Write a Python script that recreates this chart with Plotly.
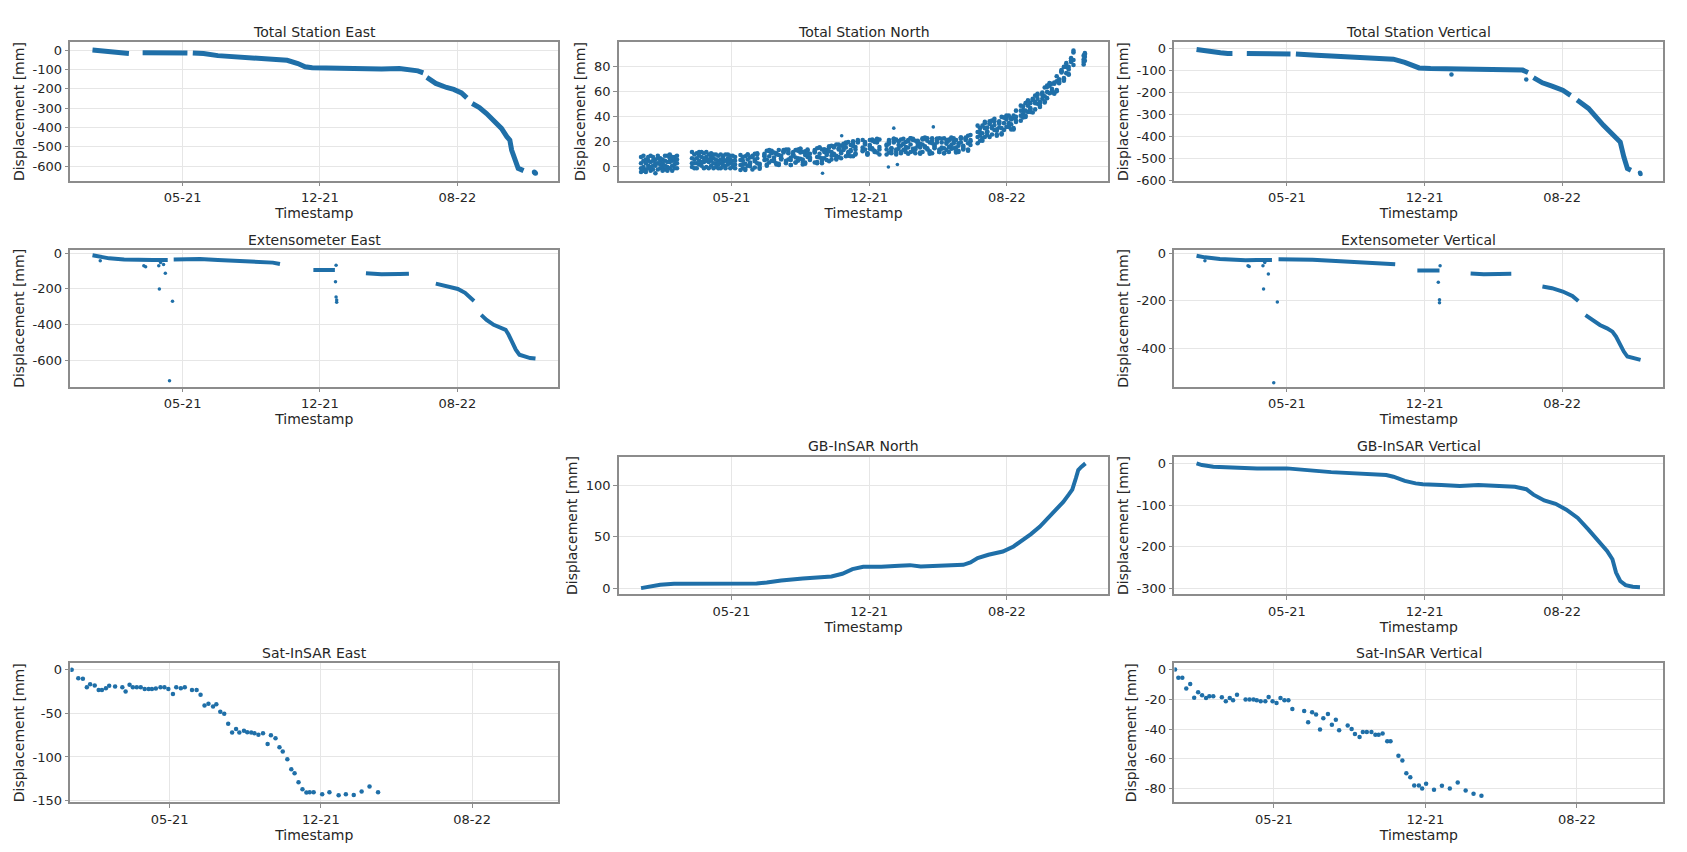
import datetime as dt
import plotly.graph_objects as go

START = dt.datetime(2020, 12, 8)
COLOR = "#1f6fa8"
FONT = "DejaVu Sans"

TICK_DATES = ["2021-05-08", "2021-12-24", "2022-08-11"]
TICK_TEXT = ["05-21", "12-21", "08-22"]
RANGE_FULL = ["2020-11-01", "2023-01-27"]
RANGE_SAT = ["2020-12-08", "2022-12-20"]

# ---------------- Total Station East (days since START, mm) ----------------
TSE_DAYS = [0, 7, 13, 22, 34, 50, 61, None, 84, 101, 125, 144, 159, None,
            168, 186, 210, 241, 271, 308, 326, 344, 356, 368, 393, 423, 454, 484, 514, 533, 545, 554, None,
            560, 575, 593, 605, 618, 627, None,
            636, 648, 660, 672, 685, 694, 699, 702, 706, 709, 713, 722]
TSE_VALS = [1, -1, -4, -9, -13, -15, -17, None, -13, -14, -13, -14, -15, None,
            -14, -17, -28, -34, -38, -43, -52, -69, -86, -91, -93, -97, -97, -97, -95, -100, -107, -117, None,
            -141, -172, -193, -203, -221, -247, None,
            -276, -297, -328, -362, -405, -448, -466, -517, -552, -586, -612, -624]
TSE_PT_DAYS = [740, 741, 742]
TSE_PT_VALS = [-631, -635, -638]

# ---------------- Total Station North (scattered band, 4 readings per date) ----------------
NORTH_DAYS = [0, 4, 8, 12, 16, 20, 24, 28, 32, 36, 40, 44, 48, 52, 56, 60,
              85, 89, 93, 97, 101, 105, 109, 113, 117, 121, 125, 129, 133, 137, 141, 145, 149, 153, 157,
              166, 170, 174, 178, 182, 186, 190, 194, 198,
              206, 210, 214, 218, 222, 226, 230, 234, 238, 242, 246, 250, 254, 258, 262, 266, 270, 274, 278, 282,
              290, 294, 298, 302, 306, 310, 314, 318, 322, 326, 330, 334, 338, 342, 346, 350, 354, 358, 362,
              370, 374, 378, 382, 386, 390, 394, 398,
              410, 414, 418, 422, 426, 430, 434, 438, 442, 446, 450, 454, 458, 462, 466, 470, 474, 478, 482,
              486, 490, 494, 498, 502, 506, 510, 514, 518, 522, 526, 530, 534, 538, 542, 546, 550,
              562, 566, 570, 574, 578, 582, 586, 590, 594, 598, 602, 606, 610, 614, 618, 622, 626,
              634, 638, 642, 646, 650, 654, 658, 662, 666, 670, 674, 678, 682, 686, 690, 694, 698, 702, 706,
              710, 714, 718, 722,
              739, 741]
NORTH_A = [-4, 0, -2, 5, -3, 1, -5, 3, -1, 6, -2, 0, 4, -3, 2, -1,
           0, 6, 11, 2, 8, -1, 5, 10, 1, 7, 3, 9, -1, 4, 10, 2, 6, 0, 8,
           -2.5, 5, 8.5, 1, 7.5, -2, 5.5, 10, 1.5,
           9.5, 1, 8.5, 12, 4.5, 11, 1.5, 9, 12.5, 5, 11, 1.5, 9, 13.5, 5, 11.5, 2, 9.5, 13, 5.5,
           11.5, 3, 10.5, 14, 7, 13.5, 4.5, 12, 16.5, 9, 15, 7, 14.5, 18.5, 11, 17.5, 8.5, 16, 20.5,
           12.5, 19, 10, 16.5, 21, 13, 19.5, 10,
           17, 21.5, 13, 19.5, 10, 17.5, 22, 13.5, 20, 10.5, 18, 21.5, 14, 20, 10.5, 18, 22.5, 14, 19.5,
           11, 18, 22.5, 14, 19.5, 11, 18.5, 22, 14.5, 20, 11.5, 19, 22.5, 15, 21.5, 13, 20.5,
           19, 28, 33, 24, 31.5, 24, 32, 36.5, 29, 35.5, 26, 35, 39, 32, 39, 30, 40,
           37, 45.5, 51, 44, 51, 43.5, 52, 57.5, 51, 58.5, 51.5, 60, 66, 59.5, 67.5, 60.5, 70, 76.5, 71,
           80, 74, 84, 91.5,
           82, 85]
NORTH_B = [3, -3, 6, -1, 4, 8, 1, -2, 7, 0, 5, 9, -1, 5, 8, 3,
           7, -1, 3, 9, 1, 11, 0, 4, 8, -1, 10, 2, 6, 9, 1, 7, -1, 5, 2,
           5.5, -1, 2.5, 10, 0.5, 8, 4.5, 7, -0.5,
           5.5, 13, 3.5, 11, 7.5, 10, 2.5, 7, 13.5, 4, 12, 7.5, 10, 3.5, 7, 14.5, 4, 12.5, 8, 10.5,
           3.5, 8, 15.5, 5, 14, 10.5, 12.5, 6, 10.5, 18, 8, 17, 13.5, 15.5, 9, 13.5, 20.5, 11, 19.5,
           15.5, 18, 11, 14.5, 22, 12, 20.5, 16,
           18, 11.5, 15, 22.5, 12, 20.5, 17, 18.5, 12, 15.5, 23, 12.5, 21, 17, 18.5, 12, 16.5, 23, 12.5,
           21, 17, 19.5, 12, 15.5, 23, 13.5, 21, 17.5, 19, 12.5, 17, 23.5, 14, 22.5, 19, 21.5,
           28, 21, 27, 36, 25.5, 34.5, 31, 33.5, 26, 31.5, 40, 29.5, 38, 35, 38, 31, 37,
           45, 39.5, 45, 53, 44, 53.5, 51, 54.5, 49, 54.5, 63.5, 55, 65, 62.5, 66.5, 61.5, 68, 77.5, 70,
           81, 80, 85, 81.5,
           86, 88]
NORTH_C = [8, 5, -4, 1, 9, -2, 6, 7, 2, -3, 9, 4, 7, 1, -1, 9,
           12, 3, 7, 5, 12, 4, 8, -1, 5, 10, 0, 5, 10, 1, 5, 10, 3, 9, -1,
           9.5, 2, -2.5, 6, 3.5, 9, 10.5, 3, -1.5,
           8.5, 6, 12.5, 13, 5.5, 2, 9.5, 7, 12.5, 14, 6, 1.5, 10, 7.5, 13, 14.5, 6, 2.5, 10, 7.5,
           13.5, 15, 7.5, 3, 12, 9.5, 15.5, 17, 9.5, 6, 14, 12, 18.5, 19.5, 12, 8.5, 16.5, 14, 20.5,
           21.5, 14, 10, 17.5, 15, 21, 22.5, 14,
           10, 18.5, 15, 21.5, 22, 14.5, 11, 18.5, 16, 21.5, 23, 14.5, 11, 19, 15.5, 22, 23.5, 15, 10.5,
           19, 16, 22.5, 23, 14.5, 11, 19.5, 16, 22.5, 23, 15.5, 12, 19.5, 17, 23.5, 25, 17.5,
           33, 25, 21, 31, 28.5, 36.5, 37, 29.5, 25, 34.5, 31, 39.5, 41, 33, 30, 39, 36,
           49, 42.5, 40, 49, 47, 54.5, 57, 50.5, 48, 57.5, 56.5, 64, 67, 60.5, 58.5, 68.5, 68, 76.5, 80,
           75, 74, 85, 85.5,
           89, 91]
NORTH_D = [-1, 9, 3, 8, 0, 5, 3, 9, 5, 3, 1, -3, 10, 8, 5, 6,
           3, 10, -1, 12, 4, 7, 12, 6, 11, 3, 6, -1, 3, 7, -1, 4, 9, 2, 5,
           1.5, 8, -1.5, 10, 2.5, 8, -0.5, 11, 2.5,
           10.5, 2, 13.5, 5, 11.5, 3, 13.5, 6, 11.5, 3, 14, 5.5, 12, 3.5, 14, 6.5, 12, 3.5, 14, 6.5,
           12.5, 4, 15.5, 7, 14, 5.5, 16.5, 9, 15.5, 7, 18, 11, 17.5, 8.5, 20, 12.5, 18.5, 10, 21.5,
           13.5, 20, 11, 21.5, 14, 20, 11.5, 22,
           14, 20.5, 11, 22.5, 14, 20.5, 12, 22.5, 15, 20.5, 12, 22.5, 15, 21, 11.5, 23, 15.5, 21, 11.5,
           23, 15, 21.5, 12, 22.5, 15, 21.5, 12, 23.5, 15, 21.5, 13, 23.5, 16, 22.5, 14, 25.5,
           24, 31, 23, 35, 27.5, 34.5, 26, 38.5, 30, 36.5, 27, 39.5, 32, 41, 34, 41, 45,
           41, 48.5, 41, 53, 46, 53.5, 46, 58.5, 52, 59.5, 52.5, 65, 59, 66.5, 59.5, 72.5, 67, 75.5, 69,
           83, 78, 87, 93,
           84, 90]
NORTH_OUT_DAYS = [303, 335, 413, 422, 428, 488]
NORTH_OUT_VALS = [-5, 25, 0, 31, 2, 32]

# ---------------- Total Station Vertical ----------------
TSV_DAYS = [0, 6, 15, 28, 40, 52, 60, None, 84, 108, 132, 157, None,
            166, 181, 200, 225, 255, 286, 311, 329, 348, 360, 372, 391, 409, 440, 471, 501, 532, 545, 554, None,
            563, 578, 594, 612, 625, None,
            636, 655, 680, 698, 708, 714, 717, 720, 726]
TSV_VALS = [-3, -6, -11, -15, -18, -21, -21, None, -21, -22, -23, -24, None,
            -23, -24, -29, -33, -38, -41, -43, -47, -62, -76, -87, -90, -91, -93, -93, -91, -93, -97, -108, None,
            -131, -155, -170, -189, -212, None,
            -234, -272, -349, -402, -425, -493, -531, -546, -554]
TSV_PT_DAYS = [426, 551, 741, 742]
TSV_PT_VALS = [-117, -140, -566, -571]

# ---------------- Extensometer East ----------------
EXE_DAYS = [0, 10, 28, 53, 77, 101, 126, None, 136, 150, 180, 210, 241, 271, 302, 314, None,
            370, 381, 393, 406, None, 458, 484, 514, 530, None, 575, 593, 612, 624, 639, None,
            651, 660, 672, 685, 692, 697, 703, 709, 715, 724, 733, 742]
EXE_VALS = [-11, -19, -28, -34, -37, -37, -37, None, -34, -32, -32, -37, -43, -47, -52, -60, None,
            -93, -95, -95, -94, None, -112, -118, -116, -114, None, -170, -182, -200, -222, -268, None,
            -346, -374, -402, -420, -430, -458, -505, -542, -570, -579, -589, -592]
EXE_OUT_DAYS = [13, 86, 89, 111, 112, 114, 119, 122, 129, 134, 407, 408, 408, 409, 409]
EXE_OUT_VALS = [-41, -69, -75, -69, -200, -52, -62, -112, -716, -270, -160, -67, -245, -262, -275]

# ---------------- Extensometer Vertical ----------------
EXV_DAYS = [0, 14, 39, 64, 82, 101, 126, None, 137, 163, 194, 225, 255, 286, 317, 332, None,
            369, 390, 406, None, 458, 480, 505, 526, None, 578, 594, 612, 628, 638, None,
            650, 661, 674, 686, 695, 701, 708, 714, 720, 729, 736, 742]
EXV_VALS = [-10, -17, -24, -28, -29, -28, -28, None, -25, -25, -27, -31, -35, -39, -42, -46, None,
            -72, -73, -72, None, -85, -88, -87, -86, None, -140, -147, -161, -180, -201, None,
            -260, -281, -302, -316, -330, -351, -386, -414, -435, -442, -446, -449]
EXV_OUT_DAYS = [14, 86, 88, 111, 112, 114, 120, 129, 135, 404, 406, 406, 407]
EXV_OUT_VALS = [-31, -52, -56, -52, -150, -39, -87, -545, -205, -122, -196, -208, -52]

# ---------------- GB-InSAR North ----------------
GBN_DAYS = [0, 14, 32, 55, 103, 133, 163, 193, 210, 234, 270, 294, 318, 336, 353, 371, 401, 431, 449,
            467, 491, 520, 538, 550, 562, 580, 604, 622, 640, 651, 666, 681, 693, 705, 714, 720, 726,
            730, 735, 742]
GBN_VALS = [0, 1.6, 3.2, 4.2, 4.5, 4.5, 4.2, 4.5, 5.5, 7.5, 9.4, 10, 11.4, 14, 18.5, 20.8, 20.8, 21.8, 22.4,
            21.1, 21.4, 21.8, 22.7, 25, 29.2, 32.5, 35.7, 40.6, 47.7, 52.6, 60, 69, 76, 84, 91, 96, 107,
            115, 118, 121.5]

# ---------------- GB-InSAR Vertical ----------------
GBV_DAYS = [0, 9, 28, 52, 101, 151, 175, 200, 225, 255, 286, 317, 329, 348, 366, 378, 409, 440, 471,
            501, 532, 551, 563, 581, 600, 618, 637, 655, 674, 686, 695, 701, 708, 717, 729, 741]
GBV_VALS = [0, -4, -8, -10, -12, -12, -14, -18, -21, -24, -26, -28, -32, -42, -48, -50, -52, -54, -52,
            -54, -56, -62, -75, -89, -97, -111, -131, -159, -190, -210, -230, -262, -282, -292, -296, -297]

# ---------------- Sat-InSAR East ----------------
SATE_DAYS = [2, 12, 19, 25, 30, 37, 43, 48, 54, 59, 68, 79, 84, 90, 95, 101, 107, 113, 119, 124,
             130, 137, 143, 149, 156, 161, 168, 174, 185, 192, 198, 204, 210, 217, 222, 228, 234, 240,
             246, 252, 257, 264, 269, 275, 280, 286, 293, 300, 305, 312, 318, 323, 330, 336, 341, 347,
             353, 359, 364, 370, 383, 394, 408, 419, 431, 443, 455, 468]
SATE_VALS = [0, -9.6, -10.3, -20, -16.5, -18, -23, -23, -21, -18.4, -19, -20, -25, -17, -20, -20, -20, -22,
             -22, -22, -21.4, -20, -20, -22, -27.6, -20, -21, -20, -23, -23, -28.7, -41, -39, -42, -39.4,
             -48, -50.5, -62, -72, -68, -72, -70, -71.6, -72, -72.7, -74.6, -72.7, -85, -75, -78.5, -88.8,
             -93.8, -102.6, -114, -118.6, -129, -137, -140.8, -140.5, -140.5, -142.7, -140.5, -144, -142.7,
             -143.5, -139.7, -134, -140.5]

# ---------------- Sat-InSAR Vertical ----------------
SATV_DAYS = [1, 6, 12, 18, 24, 30, 36, 42, 48, 53, 59, 72, 78, 84, 89, 95, 108, 114, 120, 125,
             131, 138, 143, 149, 155, 161, 167, 173, 179, 197, 203, 209, 215, 221, 226, 233, 239, 245,
             250, 263, 269, 274, 281, 286, 292, 299, 305, 310, 316, 323, 328, 340, 346, 352, 358, 364,
             371, 376, 382, 394, 406, 418, 430, 442, 454, 466]
SATV_VALS = [0, -5.6, -5.6, -12.8, -9.7, -18.9, -15.3, -17.3, -19.1, -18, -18, -18.7, -21.3, -19.1, -20.7,
             -16.9, -20.2, -20.2, -20.2, -20.7, -21.3, -21.3, -18.4, -21.3, -22.5, -19.1, -20.7, -20.7,
             -26.5, -27.9, -35.5, -28.8, -30.3, -40.4, -32.8, -29.9, -37.1, -33.7, -40.9, -37.7, -40,
             -43.4, -45.4, -42, -42, -42, -43.8, -43.8, -43.1, -48.3, -48.3, -58, -61.1, -69.7, -72.4,
             -78, -78, -80, -76.8, -80.9, -78.2, -80, -76, -81.3, -83.6, -84.9]

# y tick values per panel
YT_TSE = [0, -100, -200, -300, -400, -500, -600]
YT_TSN = [0, 20, 40, 60, 80]
YT_TSV = [0, -100, -200, -300, -400, -500, -600]
YT_EXE = [0, -200, -400, -600]
YT_EXV = [0, -200, -400]
YT_GBN = [0, 50, 100]
YT_GBV = [0, -100, -200, -300]
YT_SATE = [0, -50, -100, -150]
YT_SATV = [0, -20, -40, -60, -80]

TITLES = ["Total Station East", "Total Station North", "Total Station Vertical",
          "Extensometer East", "Extensometer Vertical", "GB-InSAR North", "GB-InSAR Vertical",
          "Sat-InSAR East", "Sat-InSAR Vertical"]


def to_dates(days):
    return [None if d is None else START + dt.timedelta(days=d) for d in days]


# layout geometry (paper fractions)
COLX = [(0.04173, 0.33088), (0.36686, 0.65691), (0.69615, 0.98595)]
ROWY = [(0.78791, 0.95012), (0.54613, 0.70657), (0.30246, 0.46397), (0.05833, 0.22148)]

# (col, row, x-range, y-range, y ticks)
PANELS = [
    (0, 0, RANGE_FULL, [-676, 40], YT_TSE),
    (1, 0, RANGE_FULL, [-11, 99.5], YT_TSN),
    (2, 0, RANGE_FULL, [-602, 29], YT_TSV),
    (0, 1, RANGE_FULL, [-750, 19], YT_EXE),
    (2, 1, RANGE_FULL, [-562, 14], YT_EXV),
    (1, 2, RANGE_FULL, [-6, 128], YT_GBN),
    (2, 2, RANGE_FULL, [-314, 16], YT_GBV),
    (0, 3, RANGE_SAT, [-152, 7.5], YT_SATE),
    (2, 3, RANGE_SAT, [-89.3, 4.2], YT_SATV),
]

fig = go.Figure()


def add_line(i, days, vals, width):
    fig.add_trace(go.Scatter(x=to_dates(days), y=vals, mode="lines", connectgaps=False,
                             line=dict(color=COLOR, width=width),
                             xaxis=f"x{i + 1}", yaxis=f"y{i + 1}", showlegend=False))


def add_pts(i, days, vals, size):
    fig.add_trace(go.Scatter(x=to_dates(days), y=vals, mode="markers",
                             marker=dict(color=COLOR, size=size, line=dict(width=0)),
                             xaxis=f"x{i + 1}", yaxis=f"y{i + 1}", showlegend=False))


add_line(0, TSE_DAYS, TSE_VALS, 5)
add_pts(0, TSE_PT_DAYS, TSE_PT_VALS, 5)

add_pts(1, NORTH_DAYS * 4, NORTH_A + NORTH_B + NORTH_C + NORTH_D, 4.6)
add_pts(1, NORTH_OUT_DAYS, NORTH_OUT_VALS, 3.6)

add_line(2, TSV_DAYS, TSV_VALS, 5)
add_pts(2, TSV_PT_DAYS, TSV_PT_VALS, 4.5)

add_line(3, EXE_DAYS, EXE_VALS, 4)
add_pts(3, EXE_OUT_DAYS, EXE_OUT_VALS, 3.5)

add_line(4, EXV_DAYS, EXV_VALS, 4)
add_pts(4, EXV_OUT_DAYS, EXV_OUT_VALS, 3.5)

add_line(5, GBN_DAYS, GBN_VALS, 4)
add_line(6, GBV_DAYS, GBV_VALS, 4)

add_pts(7, SATE_DAYS, SATE_VALS, 4.5)
add_pts(8, SATV_DAYS, SATV_VALS, 4.5)

axis_style = dict(showgrid=True, gridcolor="#e6e6e6", gridwidth=1, showline=True,
                  linecolor="#8c8c8c", linewidth=1.5, mirror=True, ticks="outside", ticklen=4,
                  tickcolor="#8c8c8c", zeroline=False, automargin=False,
                  tickfont=dict(family=FONT, size=13, color="#262626"))

layout = dict(width=1687, height=852, margin=dict(l=0, r=0, t=0, b=0),
              paper_bgcolor="white", plot_bgcolor="white", template="none",
              font=dict(family=FONT, color="#262626"), showlegend=False, annotations=[])

for i, (c, r, xr, yr, yt) in enumerate(PANELS):
    xd, yd = COLX[c], ROWY[r]
    layout[f"xaxis{i + 1}"] = dict(domain=list(xd), anchor=f"y{i + 1}", type="date", range=xr,
                                   tickvals=TICK_DATES, ticktext=TICK_TEXT,
                                   title=dict(text="Timestamp", standoff=3,
                                              font=dict(family=FONT, size=14, color="#262626")),
                                   **axis_style)
    layout[f"yaxis{i + 1}"] = dict(domain=list(yd), anchor=f"x{i + 1}", range=yr,
                                   tickvals=yt, ticktext=[str(v) for v in yt],
                                   title=dict(text="Displacement [mm]", standoff=5,
                                              font=dict(family=FONT, size=14, color="#262626")),
                                   **axis_style)
    layout["annotations"].append(dict(text=TITLES[i], x=(xd[0] + xd[1]) / 2, y=yd[1] + 10.5 / 852,
                                      xref="paper", yref="paper", xanchor="center", yanchor="middle",
                                      showarrow=False,
                                      font=dict(family=FONT, size=14, color="#262626")))

fig.update_layout(**layout)
fig.write_html("out.html")
